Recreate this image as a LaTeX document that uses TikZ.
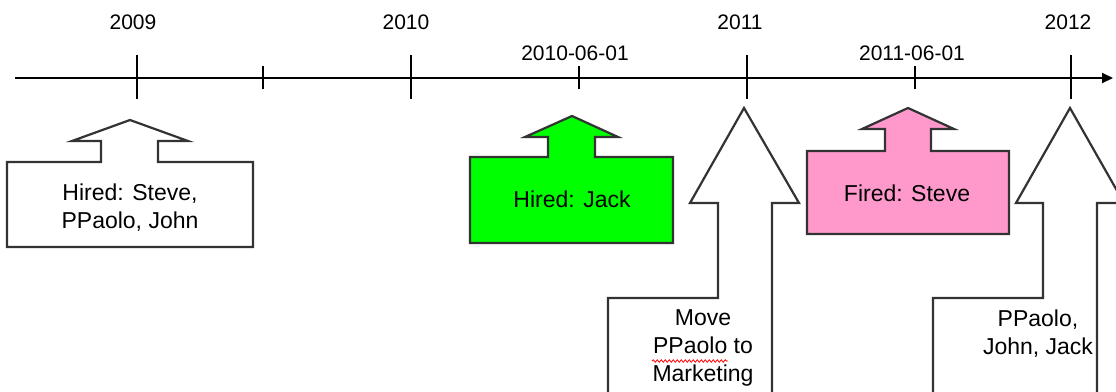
\documentclass[tikz,border=0pt]{standalone}
\usepackage{fontspec}
\setmainfont{Liberation Sans}
\usetikzlibrary{arrows.meta,decorations.pathmorphing}
\definecolor{calloutline}{HTML}{333333}
\definecolor{hiregreen}{HTML}{00FF00}
\definecolor{firepink}{HTML}{FF99CC}
\tikzset{
  axisline/.style={line width=2pt,black},
  majortick/.style={line width=2pt,black},
  minortick/.style={line width=2pt,black},
  datelabel/.style={font=\fontsize{21}{25}\selectfont,inner sep=0pt,anchor=center},
  callout/.style={line width=2.2pt,draw=calloutline,line join=miter},
  callouttext/.style={font=\fontsize{23}{28}\selectfont,align=center,inner sep=0pt,anchor=center},
}
\begin{document}
\begin{tikzpicture}[x=1pt,y=-1pt]
\useasboundingbox (0,0) rectangle (1116,391);
\clip (0,0) rectangle (1116,391);
% axis
\coordinate (axstart) at (15,78);
\coordinate (axend) at (1113,78);
\draw[axisline,-{Triangle[length=11pt,width=10pt]}] (axstart) -- (axend);
% major ticks
\foreach \name/\x in {t2009/137,t2010/411,t2011/747,t2012/1071}{
  \coordinate (\name top) at (\x,55);
  \coordinate (\name bot) at (\x,99);
  \draw[majortick] (\name top) -- (\name bot);
}
% minor ticks
\foreach \name/\x in {m1/263,m2/579,m3/915}{
  \coordinate (\name top) at (\x,66);
  \coordinate (\name bot) at (\x,89);
  \draw[minortick] (\name top) -- (\name bot);
}
% labels
\node[datelabel] (l2009) at (133,22) {2009};
\node[datelabel] (l2010) at (406,22) {2010};
\node[datelabel] (l2011) at (740,22) {2011};
\node[datelabel] (l2012) at (1068,22) {2012};
\node[datelabel] (l20100601) at (575,53) {2010-06-01};
\node[datelabel] (l20110601) at (912,53) {2011-06-01};
% callout 1 (white)
\draw[callout,fill=white] (7,247) -- (7,162) -- (101,162) -- (101,141) -- (72,141) -- (130,120)
  -- (188,141) -- (158,141) -- (158,162) -- (253,162) -- (253,247) -- cycle;
\node[callouttext] (c1) at (130,208) {Hired: Steve,\\PPaolo, John};
% callout 2 (green)
\draw[callout,fill=hiregreen] (470,243) -- (470,157) -- (548,157) -- (548,137) -- (525,137) -- (572,116)
  -- (618,137) -- (595,137) -- (595,157) -- (673,157) -- (673,243) -- cycle;
\node[callouttext] (c2) at (572,199) {Hired: Jack};
% callout 3 (pink)
\draw[callout,fill=firepink] (807,234) -- (807,151) -- (885,151) -- (885,129) -- (862,129) -- (908,108)
  -- (954,129) -- (931,129) -- (931,151) -- (1009,151) -- (1009,234) -- cycle;
\node[callouttext] (c3) at (907,193) {Fired: Steve};
% callout 4 (2011, white, open at bottom)
\draw[callout] (608,400) -- (608,298) -- (718,298) -- (718,203) -- (690,203) -- (744,108)
  -- (799,203) -- (772,203) -- (772,400);
\node[callouttext] (c4) at (703,348) {Move\\PPaolo to\\Marketing};
\coordinate (sqa) at (652,361);
\coordinate (sqb) at (728,361);
\draw[red,line width=0.8pt,decorate,decoration={snake,amplitude=1.2pt,segment length=4pt}] (sqa) -- (sqb);
% callout 5 (2012, white, open at bottom)
\draw[callout] (933,400) -- (933,298) -- (1043,298) -- (1043,203) -- (1016,203) -- (1070,108)
  -- (1124,203) -- (1097,203) -- (1097,400);
\node[callouttext] (c5) at (1038,334) {PPaolo,\\John, Jack};
\end{tikzpicture}
\end{document}
